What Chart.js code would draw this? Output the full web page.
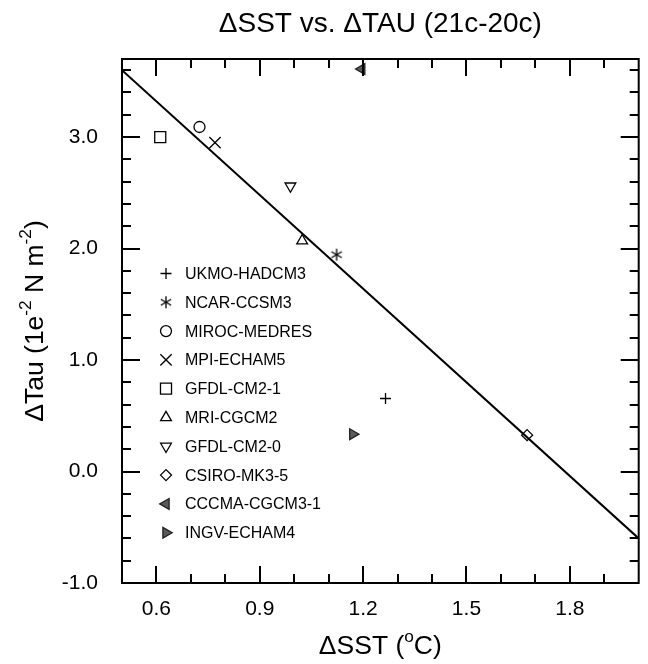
<!DOCTYPE html>
<html>
<head>
<meta charset="utf-8">
<style>
  html, body { margin: 0; padding: 0; background: #fff; }
  canvas { display: block; }
</style>
<script src="https://cdn.jsdelivr.net/npm/chart.js"></script>
</head>
<body>
<canvas id="chart" width="648" height="664"></canvas>
<script>
// modelos y valores
const modelos = ["UKMO-HADCM3", "NCAR-CCSM3", "MIROC-MEDRES", "MPI-ECHAM5", "GFDL-CM2-1",
  "MRI-CGCM2", "GFDL-CM2-0", "CSIRO-MK3-5", "CCCMA-CGCM3-1", "INGV-ECHAM4"];
const dSST = [1.265, 1.123, 0.725, 0.77, 0.611, 1.023, 0.989, 1.676, 1.196, 1.17];
const dTau = [0.655, 1.945, 3.09, 2.95, 3.0, 2.07, 2.56, 0.326, 3.61, 0.335];

// recta de regresion (extremos)
const ajusteX = [0.5, 2.0];
const ajusteY = [3.6, -0.6];

const xTicks = [0.6, 0.9, 1.2, 1.5, 1.8];
const yTicks = [-1.0, 0.0, 1.0, 2.0, 3.0];

const FUENTE = "'Liberation Sans', Arial, Helvetica, sans-serif";

function asterisco(r) {
  const c = document.createElement("canvas");
  const s = Math.ceil(r * 2 + 4);
  c.width = s;
  c.height = s;
  const g = c.getContext("2d");
  g.strokeStyle = "#000";
  g.lineWidth = 1.3;
  g.translate(s / 2, s / 2);
  [90, 30, 150].forEach((a) => {
    const rad = (a * Math.PI) / 180;
    g.beginPath();
    g.moveTo(-Math.cos(rad) * r, -Math.sin(rad) * r);
    g.lineTo(Math.cos(rad) * r, Math.sin(rad) * r);
    g.stroke();
  });
  return c;
}

const marcadores = [
  { estilo: "cross", radio: 5.5, giro: 0 },
  { estilo: asterisco(6), radio: 6, giro: 0 },
  { estilo: "circle", radio: 5.5, giro: 0 },
  { estilo: "crossRot", radio: 8, giro: 0 },
  { estilo: "rect", radio: 7.8, giro: 0 },
  { estilo: "triangle", radio: 6.2, giro: 0 },
  { estilo: "triangle", radio: 6.2, giro: 180 },
  { estilo: "rectRot", radio: 5.5, giro: 0 },
  { estilo: "triangle", radio: 6.2, giro: -90, relleno: "#5a5a5a", borde: "#222" },
  { estilo: "triangle", radio: 6.2, giro: 90, relleno: "#5a5a5a", borde: "#222" },
];

const datasets = modelos.map((m, i) => ({
  label: m,
  data: [{ x: dSST[i], y: dTau[i] }],
  pointStyle: marcadores[i].estilo,
  pointRadius: marcadores[i].radio,
  pointRotation: marcadores[i].giro,
  backgroundColor: marcadores[i].relleno || "rgba(0,0,0,0)",
  borderColor: marcadores[i].borde || "#000",
  borderWidth: 1.3,
}));

datasets.push({
  label: "ajuste",
  type: "line",
  data: ajusteX.map((v, i) => ({ x: v, y: ajusteY[i] })),
  borderColor: "#000",
  borderWidth: 2,
  pointRadius: 0,
  fill: false,
});

// texto con superindices
function textoRico(ctx, partes, cx, cy, tam) {
  const medir = (p) => {
    ctx.font = (p.sup ? tam * 0.65 : tam) + "px " + FUENTE;
    return ctx.measureText(p.t).width;
  };
  const total = partes.reduce((s, p) => s + medir(p), 0);
  let x = cx - total / 2;
  ctx.textBaseline = "alphabetic";
  ctx.textAlign = "left";
  partes.forEach((p) => {
    const w = medir(p);
    ctx.fillText(p.t, x, cy + tam * 0.36 - (p.sup ? tam * 0.42 : 0));
    x += w;
  });
}

const marco = {
  id: "marco",
  afterDraw(chart) {
    const { ctx, chartArea: a } = chart;
    const x = chart.scales.x;
    const y = chart.scales.y;
    ctx.save();
    ctx.strokeStyle = "#000";
    ctx.fillStyle = "#000";
    ctx.lineWidth = 2;
    const linea = (x1, y1, x2, y2) => {
      ctx.beginPath();
      ctx.moveTo(x1, y1);
      ctx.lineTo(x2, y2);
      ctx.stroke();
    };
    ctx.strokeRect(a.left, a.top, a.right - a.left, a.bottom - a.top);

    for (let i = 6; i < 20; i++) {
      const px = Math.round(x.getPixelForValue(i / 10));
      const largo = i % 3 === 0 ? 17 : 9;
      linea(px, a.bottom, px, a.bottom - largo);
      linea(px, a.top, px, a.top + largo);
    }
    for (let i = -4; i <= 18; i++) {
      const py = Math.round(y.getPixelForValue(i / 5));
      const largo = i % 5 === 0 ? 18 : 9;
      linea(a.left, py, a.left + largo, py);
      linea(a.right, py, a.right - largo, py);
    }

    // titulo
    ctx.font = "28px " + FUENTE;
    ctx.textAlign = "center";
    ctx.textBaseline = "middle";
    ctx.fillText("\u0394SST vs. \u0394TAU (21c-20c)", (a.left + a.right) / 2, 24);

    // titulos de ejes
    textoRico(ctx, [{ t: "\u0394SST (" }, { t: "o", sup: true }, { t: "C)" }],
      (a.left + a.right) / 2, 644, 26.5);
    ctx.save();
    ctx.translate(33, (a.top + a.bottom) / 2);
    ctx.rotate(-Math.PI / 2);
    textoRico(ctx, [{ t: "\u0394Tau (1e" }, { t: "-2", sup: true }, { t: " N m" },
      { t: "-2", sup: true }, { t: ")" }], 0, 0, 26.5);
    ctx.restore();

    // leyenda
    const lx = a.left + 44;
    const ly = a.top + 214.5;
    ctx.font = "16px " + FUENTE;
    chart.data.datasets.forEach((d, i) => {
      if (d.type === "line") return;
      const yy = ly + i * 28.8;
      ctx.fillStyle = d.backgroundColor;
      ctx.strokeStyle = d.borderColor;
      ctx.lineWidth = 1.3;
      Chart.helpers.drawPoint(ctx, {
        pointStyle: d.pointStyle,
        radius: d.pointRadius,
        rotation: d.pointRotation,
        borderWidth: 1.3,
      }, lx, yy);
      ctx.fillStyle = "#000";
      ctx.textAlign = "left";
      ctx.textBaseline = "middle";
      ctx.fillText(d.label, lx + 19, yy + 1);
    });
    ctx.restore();
  },
};

new Chart(document.getElementById("chart"), {
  type: "scatter",
  data: { datasets },
  options: {
    responsive: false,
    animation: false,
    events: [],
    layout: { padding: { top: 59, right: 2, left: 0, bottom: 0 } },
    plugins: { legend: { display: false }, tooltip: { enabled: false }, title: { display: false } },
    scales: {
      x: {
        type: "linear",
        min: 0.5,
        max: 2.0,
        grid: { display: false, drawTicks: false },
        border: { display: false },
        afterBuildTicks: (s) => { s.ticks = xTicks.map((v) => ({ value: v })); },
        afterFit: (s) => { s.height = 81; },
        ticks: {
          padding: 14,
          color: "#000",
          font: { family: FUENTE, size: 21 },
          callback: (v) => Number(v).toFixed(1),
        },
      },
      y: {
        type: "linear",
        min: -1.0,
        max: 3.7,
        grid: { display: false, drawTicks: false },
        border: { display: false },
        afterBuildTicks: (s) => { s.ticks = yTicks.map((v) => ({ value: v })); },
        afterFit: (s) => { s.width = 122; },
        ticks: {
          padding: 24,
          color: "#000",
          font: { family: FUENTE, size: 21 },
          callback: (v) => Number(v).toFixed(1),
        },
      },
    },
  },
  plugins: [marco],
});
</script>
</body>
</html>
